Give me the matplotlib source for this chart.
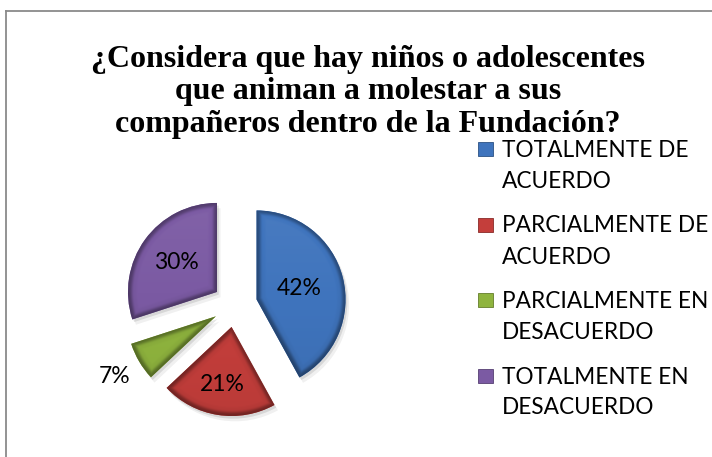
import numpy as np
import matplotlib
matplotlib.use("Agg")
import matplotlib.pyplot as plt
from matplotlib.lines import Line2D
from matplotlib.patches import Rectangle, Wedge
import matplotlib.colors as mcolors

# ---------------- data ----------------
title_lines = ["¿Considera que hay niños o adolescentes",
               "que animan a molestar a sus",
               "compañeros dentro de la Fundación?"]
categories = ["TOTALMENTE DE\nACUERDO",
              "PARCIALMENTE DE\nACUERDO",
              "PARCIALMENTE EN\nDESACUERDO",
              "TOTALMENTE EN\nDESACUERDO"]
values = [42, 21, 7, 30]
colors = ["#3f74bd", "#c43e3b", "#8fb43e", "#7b5aa3"]
pct_dist = [0.50, 0.65, 1.32, 0.56]

# ---------------- layout ----------------
W, H = 712, 457
fig = plt.figure(figsize=(W / 100, H / 100), dpi=100)
ax = fig.add_axes([0, 0, 1, 1])
R_PX, CX, CY = 89.0, 235.0, 305.0

wedges, _ = ax.pie(values, colors=colors, startangle=90, counterclock=False,
                   explode=[0.25] * len(values), radius=1,
                   wedgeprops=dict(linewidth=0))
ax.set_xlim(-CX / R_PX, (W - CX) / R_PX)
ax.set_ylim(-(H - CY) / R_PX, CY / R_PX)
ax.set_aspect("auto")
ax.axis("off")


def shade(f, base):
    out = np.empty(f.shape + (3,))
    for k in range(3):
        c = base[k] * f
        over = np.clip(f - 1, 0, None)
        c = np.where(f > 1, base[k] + (1 - base[k]) * over, c)
        out[..., k] = np.clip(c, 0, 1)
    return out


# bevel shading + soft shadow
bw = 10.0 / R_PX
for w, col in zip(wedges, colors):
    cx, cy = w.center
    r = w.r
    t1, t2 = np.deg2rad(w.theta1), np.deg2rad(w.theta2)
    for k, (ox, oy, al) in enumerate([(0.02, -0.03, 0.10), (0.04, -0.06, 0.06)]):
        sh = Wedge((cx + ox, cy + oy), r, w.theta1, w.theta2,
                   facecolor="#000000", alpha=al, linewidth=0, zorder=0.5)
        ax.add_patch(sh)
    n = 400
    xs = np.linspace(cx - r, cx + r, n)
    ys = np.linspace(cy - r, cy + r, n)
    X, Y = np.meshgrid(xs, ys)
    dx, dy = X - cx, Y - cy
    rho = np.hypot(dx, dy)
    d_arc = r - rho

    def ray_dist(a):
        ux, uy = np.cos(a), np.sin(a)
        proj = dx * ux + dy * uy
        perp = np.abs(dx * uy - dy * ux)
        return np.where(proj > 0, perp, rho)

    d = np.minimum(d_arc, np.minimum(ray_dist(t1), ray_dist(t2)))
    t = np.clip(d / bw, 0, 1)
    f = 0.62 + 0.38 * (3 * t**2 - 2 * t**3)
    f = f + 0.12 * np.exp(-((t - 0.5) / 0.22) ** 2)
    f = f + 0.05 * (dy / r)
    base = np.array(mcolors.to_rgb(col))
    im = ax.imshow(shade(f, base), extent=(cx - r, cx + r, cy - r, cy + r),
                   origin="lower", interpolation="bilinear",
                   zorder=w.get_zorder() + 0.1, aspect="auto")
    im.set_clip_path(w)

# percentage labels
total = float(sum(values))
for w, v, pd in zip(wedges, values, pct_dist):
    cx, cy = w.center
    a = np.deg2rad(0.5 * (w.theta1 + w.theta2))
    ax.text(cx + pd * np.cos(a), cy + pd * np.sin(a),
            f"{round(100 * v / total)}%", ha="center", va="center",
            fontsize=16.5, family="Lato", color="black", zorder=5)

# ---------------- title ----------------
for i, line in enumerate(title_lines):
    fig.text(368 / W, 1 - (67 + 32.5 * i) / H, line, ha="center", va="baseline",
             fontsize=23, fontweight="bold", family="Liberation Serif")

# ---------------- legend ----------------
for i, (lab, col) in enumerate(zip(categories, colors)):
    base_y = 157 + 75.5 * i
    sq = Rectangle((478 / W, 1 - (base_y - 1) / H), 15 / W, 14 / H,
                   transform=fig.transFigure, facecolor=col,
                   edgecolor=mcolors.to_hex(np.array(mcolors.to_rgb(col)) * 0.7),
                   linewidth=0.6)
    fig.add_artist(sq)
    for j, line in enumerate(lab.split("\n")):
        fig.text(502 / W, 1 - (base_y + 31 * j) / H, line, ha="left",
                 va="baseline", fontsize=16.3, family="Lato", color="black")

# ---------------- chart border ----------------
fig.add_artist(Line2D([6 / W, 6 / W], [0, 1 - 11 / H], transform=fig.transFigure,
                      color="#8a8a8a", lw=1.3))
fig.add_artist(Line2D([6 / W, 1], [1 - 11 / H, 1 - 11 / H],
                      transform=fig.transFigure, color="#8a8a8a", lw=1.3))

fig.savefig("out.png", dpi=100, facecolor="white")
